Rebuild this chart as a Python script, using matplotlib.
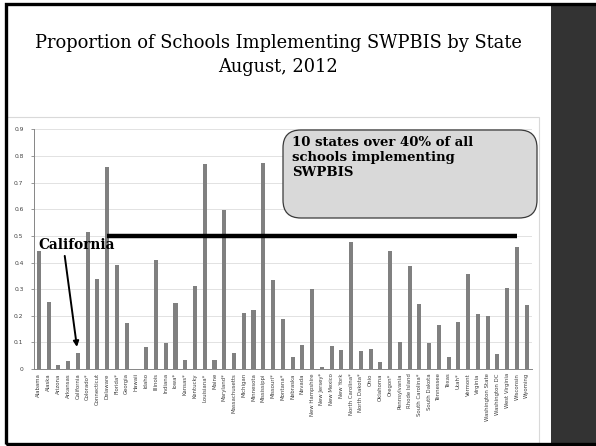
import numpy as np
import matplotlib.pyplot as plt
from matplotlib.patches import Rectangle, FancyBboxPatch

states = ["Alabama", "Alaska", "Arizona", "Arkansas", "California", "Colorado*",
          "Connecticut", "Delaware", "Florida*", "Georgia", "Hawaii", "Idaho",
          "Illinois", "Indiana", "Iowa*", "Kansas*", "Kentucky", "Louisiana*",
          "Maine", "Maryland*", "Massachusetts", "Michigan", "Minnesota",
          "Mississippi", "Missouri*", "Montana*", "Nebraska", "Nevada",
          "New Hampshire", "New Jersey*", "New Mexico", "New York",
          "North Carolina*", "North Dakota*", "Ohio", "Oklahoma", "Oregon*",
          "Pennsylvania", "Rhode Island", "South Carolina*", "South Dakota",
          "Tennessee", "Texas", "Utah*", "Vermont", "Virginia",
          "Washington State", "Washington DC", "West Virginia", "Wisconsin",
          "Wyoming"]

proportion = [0.444, 0.251, 0.016, 0.031, 0.062, 0.515,
              0.339, 0.760, 0.390, 0.172, 0.0, 0.084,
              0.409, 0.098, 0.248, 0.035, 0.311, 0.769,
              0.034, 0.599, 0.059, 0.212, 0.221,
              0.774, 0.336, 0.187, 0.046, 0.089,
              0.301, 0.009, 0.086, 0.071,
              0.477, 0.068, 0.075, 0.028, 0.442,
              0.101, 0.388, 0.245, 0.099,
              0.166, 0.045, 0.175, 0.357, 0.207,
              0.201, 0.057, 0.304, 0.459,
              0.240]

yticks = [0, 0.1, 0.2, 0.3, 0.4, 0.5, 0.6, 0.7, 0.8, 0.9]
threshold = 0.5

W, H = 596, 446
fig = plt.figure(figsize=(W / 100, H / 100), dpi=100)
fig.patch.set_facecolor("white")

def px(x0, y0, x1, y1):
    # pixel box (top-left origin) -> figure fraction rect
    return (x0 / W, 1 - y1 / H, (x1 - x0) / W, (y1 - y0) / H)

def rect(box, **kw):
    l, b, w, h = box
    return Rectangle((l, b), w, h, transform=fig.transFigure, **kw)

# slide frame and dark side panel
fig.patches.append(rect(px(551, 4, 596, 446), facecolor="#333333",
                        edgecolor="none", zorder=0))
fig.patches.append(rect(px(6, 4, 600, 444), facecolor="none",
                        edgecolor="black", linewidth=2.4, zorder=5))
# chart area border
fig.patches.append(rect(px(6, 117, 539, 450), facecolor="none",
                        edgecolor="#d9d9d9", linewidth=0.8, zorder=1))

fig.text(278 / W, 1 - 43 / H, "Proportion of Schools Implementing SWPBIS by State",
         ha="center", va="center", fontsize=12.9, family="DejaVu Serif")
fig.text(278 / W, 1 - 67 / H, "August, 2012",
         ha="center", va="center", fontsize=12.9, family="DejaVu Serif")

ax = fig.add_axes(px(34, 129.5, 531.6, 369))
x = np.arange(len(states))
ax.bar(x, proportion, width=0.42, color="#808080", zorder=2)
ax.set_xlim(-0.5, len(states) - 0.5)
ax.set_ylim(0, 0.9)
ax.set_yticks(yticks)
ax.set_yticklabels(["0" if v == 0 else f"{v:.1f}" for v in yticks])
ax.set_xticks(x)
ax.set_xticklabels(states, rotation=90)
ax.tick_params(axis="y", labelsize=4.3, labelcolor="#404040", length=2.5,
               width=0.6, color="#868686", pad=5)
ax.tick_params(axis="x", labelsize=3.9, labelcolor="#404040", length=0, pad=3)
ax.grid(axis="y", color="#e2e2e2", linewidth=0.7, zorder=0)
ax.set_axisbelow(True)
for s in ["top", "right"]:
    ax.spines[s].set_visible(False)
for s in ["left", "bottom"]:
    ax.spines[s].set_color("#868686")
    ax.spines[s].set_linewidth(0.7)

# 50% reference bar
ax.plot([6.97, 49.0], [threshold, threshold], color="black", linewidth=3.2,
        solid_capstyle="butt", zorder=4)

# California arrow
ax.text(-0.1, 0.466, "California", fontsize=9.8, fontweight="bold",
        family="DejaVu Serif", ha="left", va="center", zorder=5)
ax.annotate("", xy=(3.9, 0.083), xytext=(2.65, 0.425),
            arrowprops=dict(arrowstyle="-|>", color="black", linewidth=1.4,
                            mutation_scale=8, shrinkA=0, shrinkB=0), zorder=5)

# callout box
box = FancyBboxPatch(px(283, 130, 537, 218)[:2], *px(283, 130, 537, 218)[2:],
                     boxstyle="round,pad=0,rounding_size=0.03",
                     transform=fig.transFigure, facecolor="#d9d9d9",
                     edgecolor="#3a3a3a", linewidth=0.9, zorder=6,
                     mutation_aspect=W / H)
fig.patches.append(box)
fig.text(292 / W, 1 - 136 / H, "10 states over 40% of all\nschools implementing\nSWPBIS",
         ha="left", va="top", fontsize=9.5, fontweight="bold",
         family="DejaVu Serif", linespacing=1.2, zorder=7)

fig.savefig("out.png", dpi=100)
